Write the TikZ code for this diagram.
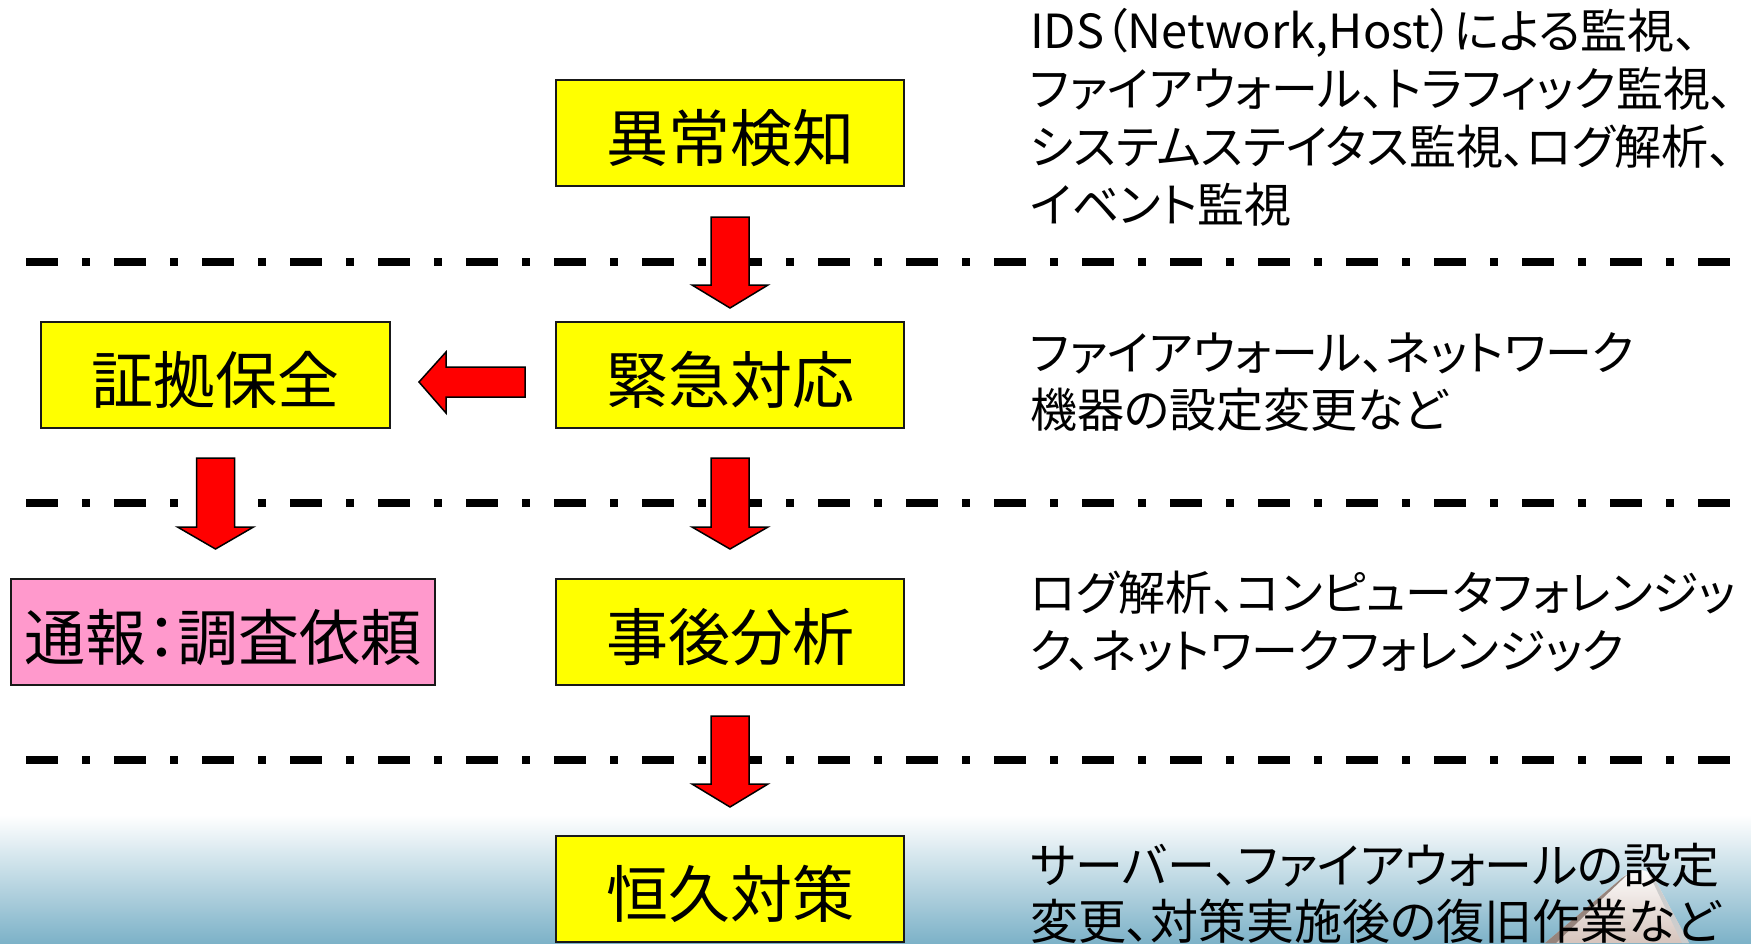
\documentclass[tikz,border=0pt]{standalone}
\usepackage{fontspec}
\newfontfamily\jp{Noto Sans CJK JP}
\newfontfamily\jpp{Noto Sans CJK JP}[RawFeature=+palt]
\usetikzlibrary{calc}
\definecolor{boxyellow}{RGB}{255,255,0}
\definecolor{boxpink}{RGB}{255,153,204}
\definecolor{bgblue}{RGB}{125,178,200}
\definecolor{arrowred}{RGB}{255,0,0}
\definecolor{mtdark}{RGB}{150,132,124}
\definecolor{mtlight}{RGB}{214,196,188}
\definecolor{mtedge}{RGB}{205,205,205}
\tikzset{
  stepbox/.style={draw=black!90, line width=2pt, fill=boxyellow, minimum width=348pt,
    minimum height=106pt, inner sep=0pt, text height=60pt, text depth=4pt,
    font=\jp\fontsize{62}{62}\selectfont},
  pinkbox/.style={stepbox, fill=boxpink, minimum width=424pt, font=\jpp\fontsize{61}{61}\selectfont},
  sepline/.style={line width=8pt, dash pattern=on 32pt off 24pt on 8pt off 24pt},
  blockarrow/.style={fill=arrowred, draw=black, line width=1.5pt, line join=miter},
  note/.style={anchor=base west, inner sep=0pt, font=\jpp\fontsize{47}{58}\selectfont},
  notebig/.style={note, font=\jpp\fontsize{48}{58}\selectfont},
}
\begin{document}
\begin{tikzpicture}[x=1pt, y=-1pt]
\useasboundingbox (0,0) rectangle (1751,943);
% background gradient
\shade[top color=white, bottom color=bgblue] (0,815) rectangle (1751,943);
% mountain
\shade[top color=white, bottom color=mtlight] (1545,943) -- (1622,878) .. controls (1630,870) and (1645,866) .. (1653,876) -- (1689,943) -- cycle;
\fill[mtdark] (1545,943) -- (1622,878) -- (1628,874) -- (1556,943) -- cycle;
\fill[mtedge] (1689,943) -- (1653,876) -- (1649,874) -- (1682,943) -- cycle;

% separator lines
\coordinate (d1s) at (26,262);  \coordinate (d1e) at (1731,262);
\coordinate (d2s) at (26,503);  \coordinate (d2e) at (1731,503);
\coordinate (d3s) at (26,760);  \coordinate (d3e) at (1731,760);
\draw[sepline] (d1s) -- (d1e);
\draw[sepline] (d2s) -- (d2e);
\draw[sepline] (d3s) -- (d3e);

% boxes
\node[stepbox] (detect) at (730,133) {異常検知};
\node[stepbox] (emerg) at (730,375) {緊急対応};
\node[stepbox, minimum width=349pt] (evid) at (215.5,375) {証拠保全};
\node[pinkbox] (report) at (223,632) {通報：調査依頼};
\node[stepbox] (analysis) at (730,632) {事後分析};
\node[stepbox] (perm) at (730,889) {恒久対策};

% block arrows
\draw[blockarrow] ($(detect.south)+(-19,30)$) -- ++(38,0) -- ++(0,68) -- ++(19,0) -- ++(-38,23) -- ++(-38,-23) -- ++(19,0) -- cycle;
\draw[blockarrow] ($(emerg.south)+(-19,29)$) -- ++(38,0) -- ++(0,69) -- ++(19,0) -- ++(-38,22) -- ++(-38,-22) -- ++(19,0) -- cycle;
\draw[blockarrow] ($(evid.south)+(-19,29)$) -- ++(38,0) -- ++(0,69) -- ++(19,0) -- ++(-38,22) -- ++(-38,-22) -- ++(19,0) -- cycle;
\draw[blockarrow] ($(analysis.south)+(-19,30)$) -- ++(38,0) -- ++(0,68) -- ++(19,0) -- ++(-38,23) -- ++(-38,-23) -- ++(19,0) -- cycle;
\draw[blockarrow] ($(emerg.west)+(-30,-8)$) -- ++(0,30) -- ++(-79,0) -- ++(0,16) -- ++(-27,-31) -- ++(27,-30) -- ++(0,15) -- cycle;

% notes
\node[note] (n1a) at (1030,48) {IDS（Network,Host）による監視、};
\node[note] (n1b) at (1030,106) {ファイアウォール、トラフィック監視、};
\node[note] (n1c) at (1030,164) {システムステイタス監視、ログ解析、};
\node[note] (n1d) at (1030,222) {イベント監視};
\node[note] (n2a) at (1030,370) {ファイアウォール、ネットワーク};
\node[note] (n2b) at (1030,427) {機器の設定変更など};
\node[note] (n3a) at (1030,610) {ログ解析、コンピュータフォレンジッ};
\node[note] (n3b) at (1030,668) {ク、ネットワークフォレンジック};
\node[notebig] (n4a) at (1030,883) {サーバー、ファイアウォールの設定};
\node[notebig] (n4b) at (1030,939) {変更、対策実施後の復旧作業など};
\end{tikzpicture}
\end{document}
